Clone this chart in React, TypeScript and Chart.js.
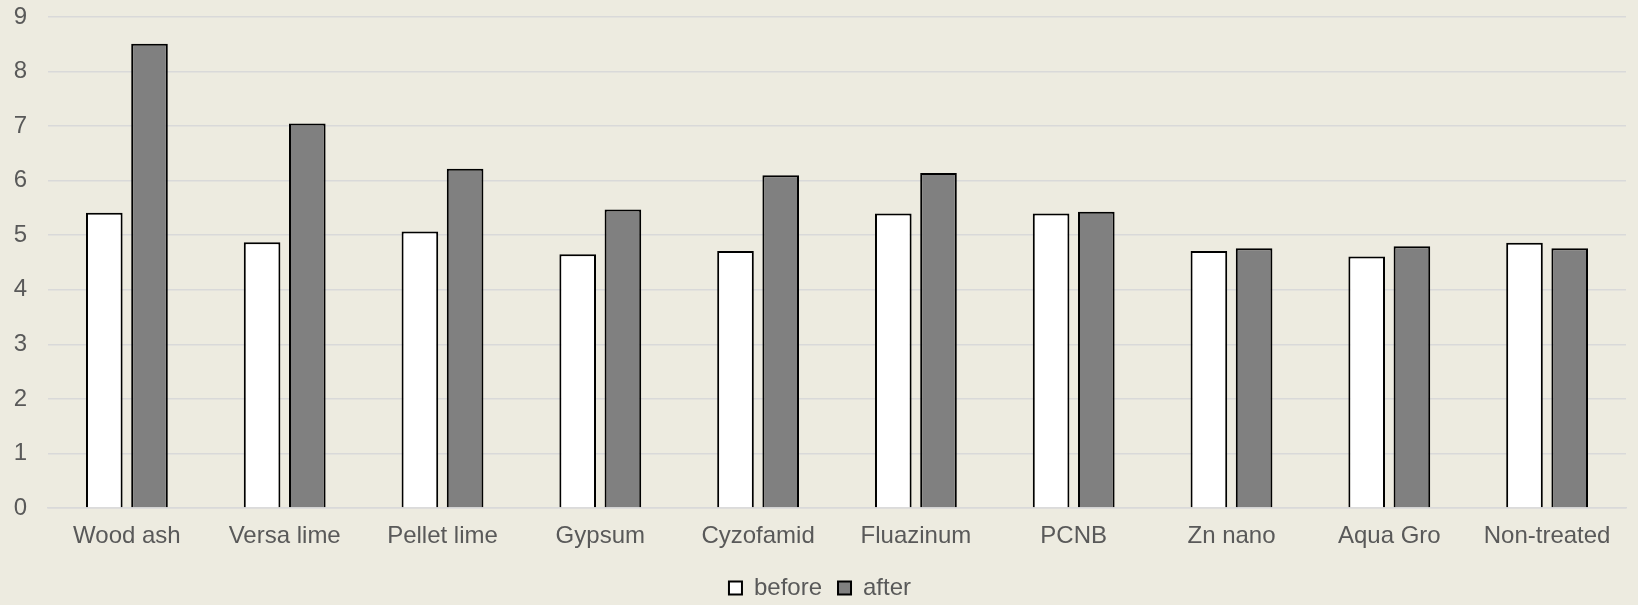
import React, { useEffect, useRef } from "react";
import { Chart, registerables } from "chart.js";

Chart.register(...registerables);

const categories = [
  "Wood ash",
  "Versa lime",
  "Pellet lime",
  "Gypsum",
  "Cyzofamid",
  "Fluazinum",
  "PCNB",
  "Zn nano",
  "Aqua Gro",
  "Non-treated",
];

const beforeValues = [5.41, 4.87, 5.07, 4.65, 4.71, 5.4, 5.4, 4.71, 4.61, 4.86];
const afterValues = [8.51, 7.05, 6.22, 5.47, 6.1, 6.14, 5.43, 4.76, 4.8, 4.76];

const seriesLabels = ["before", "after"];
const yMin = 0;
const yMax = 9;

const TEXT = "#595959";
const GRID = "#d9d9d9";
const BG = "#edebe0";
const FONT = "'Liberation Sans', Arial, sans-serif";

export default function App() {
  const canvasRef = useRef<HTMLCanvasElement | null>(null);

  useEffect(() => {
    const canvas = canvasRef.current;
    if (!canvas) return;
    const chart = new Chart(canvas, {
      type: "bar",
      data: {
        labels: categories,
        datasets: [
          {
            label: seriesLabels[0],
            data: beforeValues,
            backgroundColor: "#ffffff",
            borderColor: "#000000",
            borderWidth: 2,
          },
          {
            label: seriesLabels[1],
            data: afterValues,
            backgroundColor: "#808080",
            borderColor: "#000000",
            borderWidth: 2,
          },
        ],
      },
      options: {
        animation: false,
        responsive: false,
        maintainAspectRatio: false,
        datasets: {
          bar: {
            categoryPercentage: 0.573,
            barPercentage: 0.81,
          },
        },
        layout: {
          padding: { top: 17, left: 14, right: 12, bottom: -5 },
        },
        plugins: {
          tooltip: { enabled: false },
          legend: {
            position: "bottom",
            labels: {
              boxWidth: 13,
              boxHeight: 13,
              padding: 16,
              color: TEXT,
              font: { family: FONT, size: 24 },
            },
          },
        },
        scales: {
          x: {
            grid: { display: false, drawTicks: false },
            border: { display: true, color: GRID, width: 1.5 },
            ticks: {
              color: TEXT,
              padding: 14,
              maxRotation: 0,
              autoSkip: false,
              font: { family: FONT, size: 24 },
            },
            afterFit: (scale: any) => {
              scale.height = 52;
              scale.paddingLeft = 0;
              scale.paddingRight = 0;
            },
          },
          y: {
            min: yMin,
            max: yMax,
            grid: { color: GRID, lineWidth: 1.5, drawTicks: false },
            border: { display: false },
            ticks: {
              stepSize: 1,
              color: TEXT,
              padding: 21,
              font: { family: FONT, size: 24 },
            },
            afterFit: (scale: any) => {
              scale.width = 34;
              scale.paddingTop = 0;
              scale.paddingBottom = 0;
            },
          },
        },
      },
    });
    return () => chart.destroy();
  }, []);

  return (
    <div
      style={{
        position: "fixed",
        left: 0,
        top: 0,
        width: 1638,
        height: 605,
        background: BG,
      }}
    >
      <canvas ref={canvasRef} width={1638} height={605} style={{ display: "block" }} />
    </div>
  );
}
